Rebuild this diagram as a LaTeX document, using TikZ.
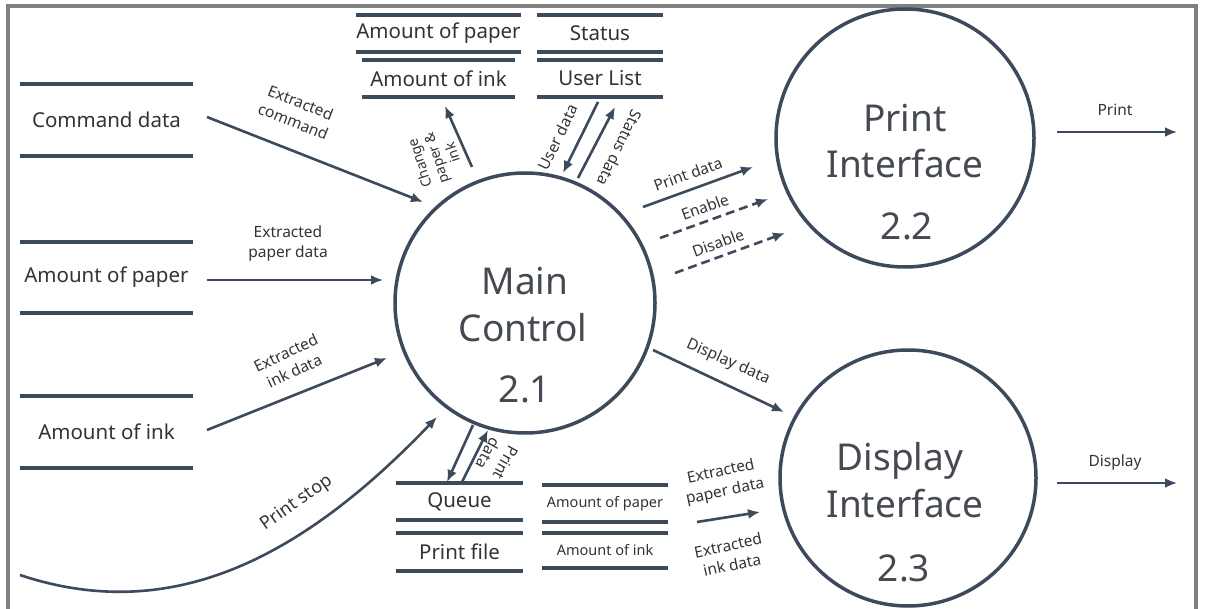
\documentclass[tikz,border=0pt]{standalone}
\usepackage{fontspec}
\setmainfont{Noto Sans}
\usetikzlibrary{arrows.meta}

\definecolor{flowcol}{HTML}{3D4A5C}
\definecolor{framecol}{HTML}{808080}
\definecolor{txtcol}{HTML}{333333}
\definecolor{titlecol}{HTML}{454A52}

\tikzset{
  frame/.style={draw=framecol, line width=4pt},
  store/.style={inner sep=0pt, text=txtcol, font=\fontsize{20.5}{24}\selectfont},
  storeline/.style={draw=flowcol, line width=3.5pt},
  proc/.style={circle, draw=flowcol, line width=3.5pt, inner sep=0pt},
  ptitle/.style={text=titlecol, inner sep=0pt, font=\fontsize{37}{40}\selectfont},
  lbl/.style={text=txtcol, inner sep=0pt, align=center, font=\fontsize{15.5}{20}\selectfont},
  flow/.style={draw=flowcol, line width=2.6pt, -{Latex[length=12pt,width=10pt]}},
  dflow/.style={flow, dash pattern=on 9pt off 5pt},
}

\begin{document}
\begin{tikzpicture}[x=1pt, y=-1pt]
\clip (0,0) rectangle (1205,609);
\fill[white] (0,0) rectangle (1205,609);
\draw[frame] (8,700) -- (8,6.5) -- (1196,6.5) -- (1196,700);

% stores on the left
\node[store, minimum width=173pt, minimum height=72pt] (cmd) at (106.5,120) {Command data};
\node[store, minimum width=173pt, minimum height=71pt] (paper) at (106.5,277.5) {Amount of paper};
\node[store, minimum width=173pt, minimum height=72pt] (ink) at (106.5,432) {Amount of ink};
\draw[storeline] (cmd.north west) -- (cmd.north east) (cmd.south west) -- (cmd.south east);
\draw[storeline] (paper.north west) -- (paper.north east) (paper.south west) -- (paper.south east);
\draw[storeline] (ink.north west) -- (ink.north east) (ink.south west) -- (ink.south east);

% stores on top
\node[store, minimum width=153pt, minimum height=37pt] (paperT) at (438.5,33.5) {Amount of paper};
\node[store, minimum width=153pt, minimum height=37pt] (inkT) at (438.5,78.5) {Amount of ink};
\node[store, minimum width=126pt, minimum height=37pt] (stat) at (600,33.5) {Status};
\node[store, minimum width=126pt, minimum height=37pt] (users) at (600,78.5) {User List};
\draw[storeline] (paperT.north west) -- (paperT.north east) (paperT.south west) -- (paperT.south east);
\draw[storeline] (inkT.north west) -- (inkT.north east) (inkT.south west) -- (inkT.south east);
\draw[storeline] (stat.north west) -- (stat.north east) (stat.south west) -- (stat.south east);
\draw[storeline] (users.north west) -- (users.north east) (users.south west) -- (users.south east);

% stores at the bottom
\node[store, minimum width=127pt, minimum height=37pt] (queue) at (459.5,501.5) {Queue};
\node[store, minimum width=127pt, minimum height=38pt] (pfile) at (459.5,552) {Print file};
\node[store, minimum width=126pt, minimum height=37pt, font=\fontsize{14.5}{18}\selectfont] (paperB) at (605,503.5) {Amount of paper};
\node[store, minimum width=126pt, minimum height=35pt, font=\fontsize{14.5}{18}\selectfont] (inkB) at (605,550.5) {Amount of ink};
\draw[storeline] (queue.north west) -- (queue.north east) (queue.south west) -- (queue.south east);
\draw[storeline] (pfile.north west) -- (pfile.north east) (pfile.south west) -- (pfile.south east);
\draw[storeline] (paperB.north west) -- (paperB.north east) (paperB.south west) -- (paperB.south east);
\draw[storeline] (inkB.north west) -- (inkB.north east) (inkB.south west) -- (inkB.south east);

% processes
\node[proc, minimum size=260pt] (main) at (525,303) {};
\node[proc, minimum size=258pt] (print) at (905,138) {};
\node[proc, minimum size=256pt] (disp) at (908,478) {};
\node[ptitle, anchor=base] (mainA) at (525,295) {Main};
\node[ptitle, anchor=base] (mainB) at (523,342) {Control};
\node[ptitle, anchor=base] (mainC) at (525,403) {2.1};
\node[ptitle, anchor=base] (printA) at (905,132) {Print};
\node[ptitle, anchor=base] (printB) at (905,178) {Interface};
\node[ptitle, anchor=base] (printC) at (907,240) {2.2};
\node[ptitle, anchor=base] (dispA) at (900,470) {Display};
\node[ptitle, anchor=base] (dispB) at (905,517) {Interface};
\node[ptitle, anchor=base] (dispC) at (904,581) {2.3};

% connector ends
\coordinate (cmdOut) at (207,117);   \coordinate (cmdIn) at (423,202);
\coordinate (paperOut) at (207,280); \coordinate (paperIn) at (383,280);
\coordinate (inkOut) at (207,430);   \coordinate (inkIn) at (387,358);
\coordinate (stopOut) at (20,575);   \coordinate (stopIn) at (437,417);
\coordinate (chgOut) at (472,167);   \coordinate (chgIn) at (445,106);
\coordinate (userOut) at (598,102);  \coordinate (userIn) at (563,173);
\coordinate (statOut) at (578,178);  \coordinate (statIn) at (615,107);
\coordinate (pdOut) at (643,207);    \coordinate (pdIn) at (753,167);
\coordinate (enOut) at (660,238);    \coordinate (enIn) at (768,199);
\coordinate (disOut) at (675,273);   \coordinate (disIn) at (785,233);
\coordinate (dispOut) at (653,350);  \coordinate (dispIn) at (784,412);
\coordinate (qOut) at (473,425);     \coordinate (qIn) at (447,482);
\coordinate (pfOut) at (462,482);    \coordinate (pfIn) at (488,430);
\coordinate (exOut) at (697,522);    \coordinate (exIn) at (760,512);
\coordinate (prOut) at (1057,132);   \coordinate (prIn) at (1177,132);
\coordinate (shOut) at (1057,483);   \coordinate (shIn) at (1177,483);

% flows
\draw[flow] (cmdOut) -- (cmdIn);
\draw[flow] (paperOut) -- (paperIn);
\draw[flow] (inkOut) -- (inkIn);
\draw[flow] (stopOut) .. controls (170,625) and (300,560) .. (stopIn);
\draw[flow] (chgOut) -- (chgIn);
\draw[flow] (userOut) -- (userIn);
\draw[flow] (statOut) -- (statIn);
\draw[flow] (pdOut) -- (pdIn);
\draw[dflow] (enOut) -- (enIn);
\draw[dflow] (disOut) -- (disIn);
\draw[flow] (dispOut) -- (dispIn);
\draw[flow] (qOut) -- (qIn);
\draw[flow] (pfOut) -- (pfIn);
\draw[flow] (exOut) -- (exIn);
\draw[flow] (prOut) -- (prIn);
\draw[flow] (shOut) -- (shIn);

% labels
\node[lbl, rotate=-21.5] (lCmd) at (297,112) {Extracted\\command};
\node[lbl] (lPaper) at (288,243) {Extracted\\paper data};
\node[lbl, rotate=25] (lInk) at (290,362) {Extracted\\ink data};
\node[lbl, rotate=35, font=\fontsize{18}{22}\selectfont] (lStop) at (297,503) {Print stop};
\node[lbl, rotate=108, font=\fontsize{14}{17}\selectfont] (lChg) at (436,158) {Change\\paper \&\\ink};
\node[lbl, rotate=64] (lUser) at (558,137) {User data};
\node[lbl, rotate=-116] (lStat) at (620,148) {Status data};
\node[lbl, rotate=20] (lPd) at (688,174) {Print data};
\node[lbl, rotate=20] (lEn) at (705,207) {Enable};
\node[lbl, rotate=20] (lDis) at (718,243) {Disable};
\node[lbl, rotate=-24] (lDisp) at (728,362) {Display data};
\node[lbl, rotate=-119] (lPd2) at (497,458) {Print\\data};
\node[lbl, rotate=12] (lPaperB) at (723,482) {Extracted\\paper data};
\node[lbl, rotate=12] (lInkB) at (730,555) {Extracted\\ink data};
\node[lbl] (lPrint) at (1115,110) {Print};
\node[lbl] (lShow) at (1115,462) {Display};
\end{tikzpicture}
\end{document}
